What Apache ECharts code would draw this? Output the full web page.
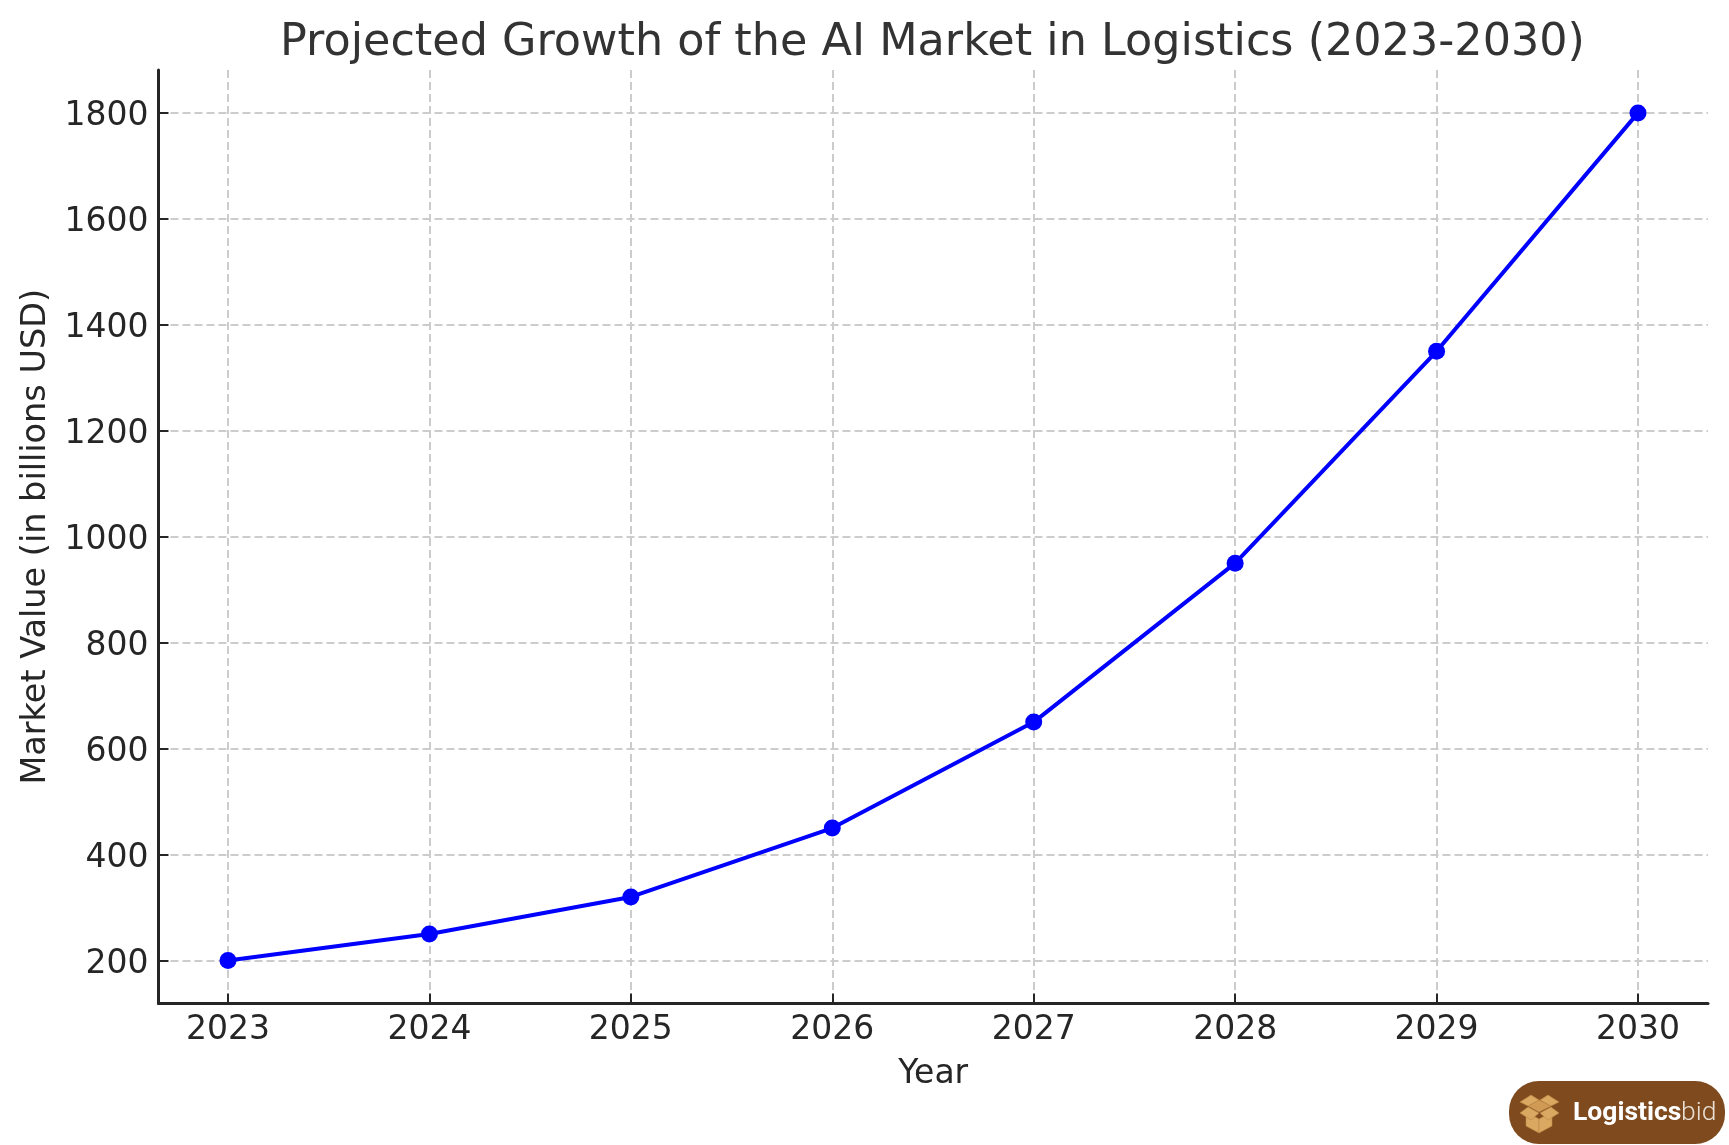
<!DOCTYPE html>
<html><head><meta charset="utf-8">
<style>html,body{margin:0;padding:0;background:#fff}#c{width:1729px;height:1145px}</style>
<script src="https://cdn.jsdelivr.net/npm/echarts@6/dist/echarts.min.js"></script>
</head><body><div id="c"></div>
<script>
const years = [2023, 2024, 2025, 2026, 2027, 2028, 2029, 2030];
const marketValues = [200, 250, 320, 450, 650, 950, 1350, 1800];
const yTicks = [200, 400, 600, 800, 1000, 1200, 1400, 1600, 1800];
const titleText = 'Projected Growth of the AI Market in Logistics (2023-2030)';
const xName = 'Year';
const yName = 'Market Value (in billions USD)';
const FONT = '"DejaVu Sans"';
const INK = '#262626';
const tick = {show: true, inside: true, length: 10, lineStyle: {color: INK, width: 2}};
const grid = {show: true, lineStyle: {color: '#cccccc', width: 2, type: [8, 4]}};
const BOX = '#dba862', BOX2 = '#d09a55', BOX3 = '#b98645';
const poly = (points, fill) => ({type: 'polygon', shape: {points}, style: {fill, stroke: BOX3, lineWidth: 0.6}});
const chart = echarts.init(document.getElementById('c'), null, {renderer: 'canvas'});
chart.setOption({
  animation: false,
  backgroundColor: '#fff',
  title: {text: titleText, left: 927.5, top: 16, textAlign: 'center',
    textStyle: {fontFamily: FONT, fontSize: 44.5, fontWeight: 'normal', color: '#333333'}},
  grid: {left: 158.5, top: 70, width: 1549.5, height: 933.5, containLabel: false, outerBoundsMode: 'none'},
  xAxis: {
    type: 'value', min: 2022.655, max: 2030.3475,
    name: xName, nameLocation: 'middle', nameGap: 54,
    nameTextStyle: {fontFamily: FONT, fontSize: 33, color: INK},
    axisLine: {show: true, onZero: false, lineStyle: {color: INK, width: 3}},
    axisTick: Object.assign({customValues: years}, tick),
    axisLabel: {customValues: years, formatter: v => String(v), margin: 10,
      fontFamily: FONT, fontSize: 33, color: INK, hideOverlap: false},
    splitLine: grid
  },
  yAxis: {
    type: 'value', min: 118.8, max: 1881,
    name: yName, nameLocation: 'middle', nameGap: 103,
    nameTextStyle: {fontFamily: FONT, fontSize: 33.5, color: INK},
    axisLine: {show: true, onZero: false, lineStyle: {color: INK, width: 3}},
    axisTick: Object.assign({customValues: yTicks}, tick),
    axisLabel: {customValues: yTicks, formatter: v => String(v), margin: 10,
      verticalAlign: 'top', lineHeight: 8,
      fontFamily: FONT, fontSize: 33, color: INK},
    splitLine: grid
  },
  series: [{
    type: 'line',
    data: years.map((y, i) => [y, marketValues[i]]),
    symbol: 'circle', symbolSize: 17, smooth: false, clip: false,
    lineStyle: {color: '#0000ff', width: 4},
    itemStyle: {color: '#0000ff'}
  }],
  graphic: [
    {type: 'rect', shape: {x: 1509, y: 1081, width: 216, height: 63, r: 30}, style: {fill: '#7e4a1e'}},
    poly([[1526,1112],[1539,1119],[1539,1133],[1526,1126]], BOX),
    poly([[1552,1112],[1539,1119],[1539,1133],[1552,1126]], BOX),
    poly([[1528,1106],[1539,1100],[1551,1106],[1539,1112]], BOX2),
    poly([[1520,1102],[1531,1095],[1539,1100],[1528,1106]], BOX),
    poly([[1559,1102],[1548,1095],[1540,1100],[1551,1106]], BOX),
    poly([[1520,1113],[1528,1107],[1539,1113],[1531,1120]], BOX),
    poly([[1559,1113],[1551,1107],[1540,1113],[1548,1120]], BOX),
    {type: 'text', style: {x: 1573, y: 1113, text: 'Logistics', fill: '#fff',
      font: 'bold 26.5px Roboto', verticalAlign: 'middle', align: 'left'}},
    {type: 'text', style: {x: 1681, y: 1113, text: 'bid', fill: '#eadfd4',
      font: '300 26.5px Roboto', verticalAlign: 'middle', align: 'left'}}
  ]
});
</script></body></html>
